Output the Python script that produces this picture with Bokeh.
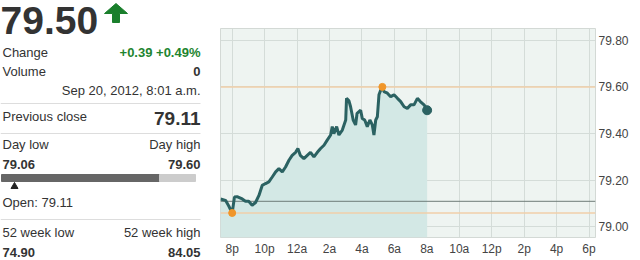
from bokeh.plotting import figure
from bokeh.layouts import row
from bokeh.models import FixedTicker, Range1d, PrintfTickFormatter
from bokeh.core.properties import value
from bokeh.embed import file_html
from bokeh.resources import INLINE

# ---- data ----
hours = [-0.72, -0.41, -0.21, 0.0, 0.14, 0.3, 0.62, 0.82, 1.02, 1.23, 1.44, 1.65, 1.85, 2.06, 2.26,
         2.47, 2.68, 2.88, 3.09, 3.29, 3.5, 3.7, 3.91, 4.05, 4.2, 4.42, 4.63, 4.83, 5.04, 5.25,
         5.45, 5.66, 5.86, 6.07, 6.17, 6.27, 6.44, 6.58, 6.79, 7.0, 7.05, 7.2, 7.3, 7.46, 7.61,
         7.7, 7.92, 8.02, 8.17, 8.33, 8.49, 8.64, 8.74, 8.85, 8.95, 9.05, 9.16, 9.26, 9.36, 9.57,
         9.77, 9.98, 10.19, 10.39, 10.6, 10.8, 11.0, 11.21, 11.42, 11.6, 11.83, 12.02]
prices = [79.12, 79.114, 79.09, 79.06, 79.128, 79.13, 79.12, 79.11, 79.11, 79.093, 79.105, 79.135,
          79.178, 79.186, 79.193, 79.214, 79.236, 79.25, 79.236, 79.257, 79.286, 79.307, 79.32,
          79.336, 79.307, 79.293, 79.307, 79.32, 79.30, 79.32, 79.336, 79.35, 79.372, 79.394,
          79.43, 79.40, 79.43, 79.394, 79.415, 79.458, 79.551, 79.54, 79.515, 79.458, 79.437,
          79.487, 79.50, 79.465, 79.458, 79.43, 79.458, 79.437, 79.394, 79.458, 79.472, 79.566,
          79.587, 79.60, 79.58, 79.573, 79.558, 79.566, 79.551, 79.537, 79.515, 79.508, 79.523,
          79.523, 79.551, 79.537, 79.523, 79.50]
prev_close = 79.11
day_low = 79.06
day_high = 79.60
low_hour = 0.0
high_hour = 9.26
tick_hours = [0, 2, 4, 6, 8, 10, 12, 14, 16, 18, 20, 22]
tick_labels = ["8p", "10p", "12a", "2a", "4a", "6a", "8a", "10a", "12p", "2p", "4p", "6p"]
price_ticks = [79.0, 79.2, 79.4, 79.6, 79.8]

FONT = "Liberation Sans"
DARK = "#333333"
GREEN = "#1e8530"

# ---- left info panel ----
L = figure(width=210, height=260, x_range=Range1d(0, 210), y_range=Range1d(260, 0),
           output_backend="svg", toolbar_location=None,
           min_border_left=0, min_border_right=0, min_border_top=0, min_border_bottom=0)
L.frame_align = False
L.axis.visible = False
L.grid.visible = False
L.outline_line_color = None
L.background_fill_color = "white"
L.border_fill_color = "white"

def txt(x, y, s, size, align="left", bold=False, color=DARK):
    L.text(x=[x], y=[y], text=[s], text_font=value(FONT), text_font_size=f"{size}px",
           text_align=align, text_baseline="middle", text_color=color,
           text_font_style="bold" if bold else "normal")

txt(0, 19.5, "79.50", 39, bold=True)
L.patch(x=[115.5, 127, 119, 119, 112, 112, 104], y=[3, 13, 13, 22, 22, 13, 13], color="#1a7f2c")
txt(2, 52, "Change", 13)
txt(200, 52, "+0.39 +0.49%", 13, "right", True, GREEN)
txt(2, 71, "Volume", 13)
txt(200, 71, "0", 13, "right", True)
txt(200, 90, "Sep 20, 2012, 8:01 a.m.", 13, "right")
txt(2, 116, "Previous close", 13)
txt(200, 118, f"{prev_close:.2f}", 19, "right", True)
txt(2, 144, "Day low", 13)
txt(200, 144, "Day high", 13, "right")
txt(2, 164, f"{day_low:.2f}", 13, "left", True)
txt(200, 164, f"{day_high:.2f}", 13, "right", True)
L.quad(left=[1], right=[159], top=[174], bottom=[181], color="#666666")
L.quad(left=[159], right=[195], top=[174], bottom=[181], color="#cccccc")
L.scatter(x=[14], y=[186], marker="triangle", size=7, color="#222222")
txt(2, 202, "Open: 79.11", 13)
txt(2, 232, "52 week low", 13)
txt(200, 232, "52 week high", 13, "right")
txt(2, 252, "74.90", 13, "left", True)
txt(200, 252, "84.05", 13, "right", True)
for yy in [103, 133, 219]:
    L.line(x=[0, 200], y=[yy, yy], line_color="#dddddd", line_width=1)

# ---- chart ----
p = figure(width=430, height=260, x_range=Range1d(-0.72, 22.4), y_range=Range1d(78.955, 79.85),
           output_backend="svg", toolbar_location=None, y_axis_location="right",
           min_border_left=10, min_border_right=45, min_border_top=28, min_border_bottom=23)
p.frame_align = False
p.background_fill_color = "#eef4f1"
p.border_fill_color = "white"
p.outline_line_color = "#d3d9d5"
p.xaxis.ticker = FixedTicker(ticks=tick_hours)
p.xaxis.major_label_overrides = {t: l for t, l in zip(tick_hours, tick_labels)}
p.yaxis.ticker = FixedTicker(ticks=price_ticks)
p.yaxis.formatter = PrintfTickFormatter(format="%.2f")
for ax in [p.xaxis, p.yaxis]:
    ax.axis_line_color = None
    ax.major_tick_line_color = None
    ax.minor_tick_line_color = None
    ax.major_tick_out = 0
    ax.major_tick_in = 0
    ax.minor_tick_out = 0
    ax.minor_tick_in = 0
    ax.major_label_text_font = FONT
    ax.major_label_text_font_size = "12px"
    ax.major_label_text_color = "#444444"
p.xaxis.major_label_standoff = 4
p.yaxis.major_label_standoff = 3
p.grid.grid_line_color = "#d4dcd8"
p.grid.grid_line_alpha = 1

p.varea(x=hours, y1=[78.955] * len(hours), y2=prices, fill_color="#d3e8e5")
p.line(x=[-0.72, 22.4], y=[prev_close, prev_close], line_color="#6e7c78", line_width=1)
p.line(x=[-0.72, 22.4], y=[day_low, day_low], line_color="#f1cfa8", line_width=1.5)
p.line(x=[-0.72, 22.4], y=[day_high, day_high], line_color="#f1cfa8", line_width=1.5)
p.line(x=hours, y=prices, line_color="#2b6262", line_width=3)
p.scatter(x=[low_hour, high_hour], y=[day_low, day_high], size=7, color="#f0962a")
p.scatter(x=[hours[-1]], y=[prices[-1]], size=9, color="#2b6262")

open("out.html", "w").write(file_html(row(L, p), INLINE))
